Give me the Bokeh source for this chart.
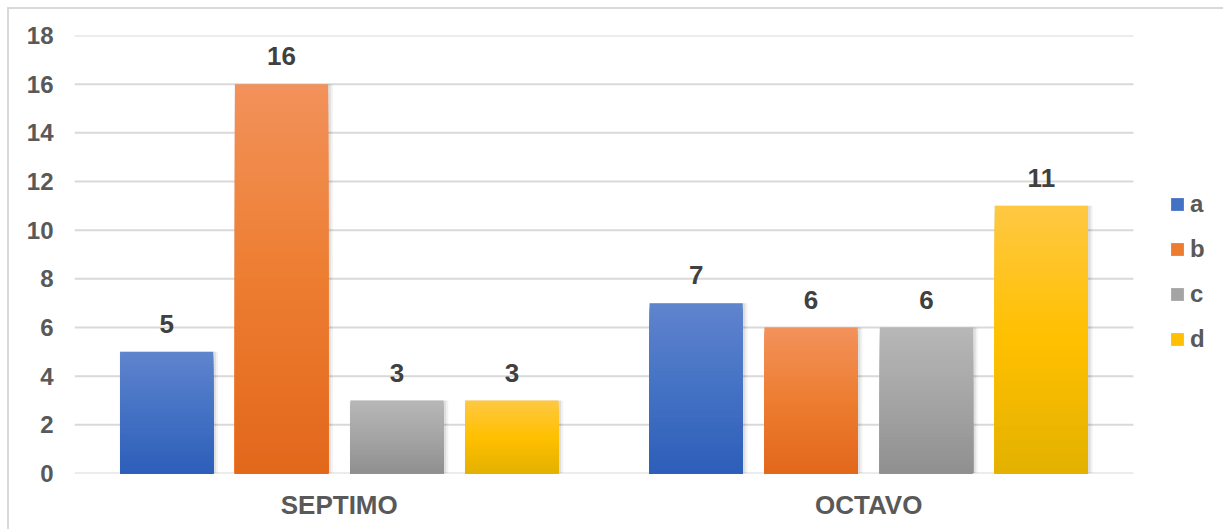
from bokeh.plotting import figure
from bokeh.models import (ColumnDataSource, Range1d, FixedTicker, Legend, LegendItem)
from bokeh.core.properties import value
from bokeh.embed import file_html
from bokeh.resources import INLINE

# ---- data -------------------------------------------------------------
grades = ["SEPTIMO", "OCTAVO"]
series = ["a", "b", "c", "d"]
a_vals = [5, 7]
b_vals = [16, 6]
c_vals = [3, 6]
d_vals = [3, 11]
y_ticks = [0, 2, 4, 6, 8, 10, 12, 14, 16, 18]

series_values = {"a": a_vals, "b": b_vals, "c": c_vals, "d": d_vals}

# ---- styling ----------------------------------------------------------
FONT = "Liberation Sans"
TEXT_GREY = "#595959"
LABEL_GREY = "#404040"
GRID_GREY = "#d9d9d9"

# vertical gradients per series: (top, middle, bottom)
gradients = {
    "a": ("#6084ce", "#4472c4", "#2d5eb9"),
    "b": ("#f2925b", "#ed7d31", "#e2671b"),
    "c": ("#b7b7b7", "#a5a5a5", "#8f8f8f"),
    "d": ("#ffc843", "#ffc000", "#e3b100"),
}
offsets = [-0.326, -0.109, 0.109, 0.326]   # bar position inside a category slot
BAR_W = 0.176
STEPS = 40

# frame geometry: the category slots take CAT_PX, the legend column LEGEND_PX
CAT_PX = 1059
LEGEND_PX = 92
n_cat = len(grades)
cat_centers = [i + 0.5 for i in range(n_cat)]


def hex_to_rgb(h):
    h = h.lstrip("#")
    return tuple(int(h[i:i + 2], 16) for i in (0, 2, 4))


def mix(c1, c2, t):
    a, b = hex_to_rgb(c1), hex_to_rgb(c2)
    return "#%02x%02x%02x" % tuple(round(x + (y - x) * t) for x, y in zip(a, b))


def grad_color(stops, t):
    """t = 0 at the top of a bar, 1 at the bottom."""
    top, mid, bot = stops
    if t < 0.5:
        return mix(top, mid, t / 0.5)
    return mix(mid, bot, (t - 0.5) / 0.5)


p = figure(
    x_range=Range1d(0, n_cat * (CAT_PX + LEGEND_PX) / CAT_PX),
    y_range=Range1d(0, 18),
    width=1216, height=522,
    output_backend="svg", toolbar_location=None,
    min_border_left=65, min_border_right=0,
    min_border_top=26, min_border_bottom=58,
)
p.margin = (7, 0, 0, 7)
p.styles = {"border-top": "2px solid #d9d9d9", "border-left": "2px solid #d9d9d9"}
p.outline_line_color = None
p.background_fill_color = "white"
p.border_fill_color = "white"

# axes
p.yaxis.ticker = FixedTicker(ticks=y_ticks)
p.xaxis.ticker = FixedTicker(ticks=cat_centers)
p.xaxis.major_label_overrides = {c: g for c, g in zip(cat_centers, grades)}
for ax in (p.xaxis[0], p.yaxis[0]):
    ax.axis_line_color = None
    ax.major_tick_line_color = None
    ax.minor_tick_line_color = None
    ax.major_tick_out = 0
    ax.major_tick_in = 0
    ax.major_label_text_font = FONT
    ax.major_label_text_font_style = "bold"
    ax.major_label_text_color = TEXT_GREY
p.yaxis.major_label_text_font_size = "24px"
p.yaxis.major_label_standoff = 21
p.xaxis.major_label_text_font_size = "26px"
p.xaxis.major_label_standoff = 16

# horizontal gridlines only across the category slots
p.xgrid.grid_line_color = None
p.ygrid.grid_line_color = None
grid_src = ColumnDataSource(dict(x0=[0] * len(y_ticks), x1=[n_cat] * len(y_ticks),
                                 y=y_ticks))
p.segment(x0="x0", y0="y", x1="x1", y1="y", source=grid_src,
          line_color=GRID_GREY, line_width=2)

legend_items = []
for s, off in zip(series, offsets):
    vals = series_values[s]
    stops = gradients[s]
    xs = [c + off for c in cat_centers]

    # soft drop shadow behind each bar
    shadow = ColumnDataSource(dict(x=[x + 0.004 for x in xs], x2=[x + 0.003 for x in xs],
                                   top=vals))
    p.vbar(x="x", top="top", width=BAR_W + 0.010, source=shadow,
           fill_color="black", fill_alpha=0.05, line_color=None)
    p.vbar(x="x2", top="top", width=BAR_W + 0.004, source=shadow,
           fill_color="black", fill_alpha=0.08, line_color=None)

    # gradient fill: nested bars from 0 up to a shrinking share of the value
    swatch = None
    for i in range(STEPS):
        frac = 1 - i / STEPS
        src = ColumnDataSource(dict(x=xs, top=[v * frac for v in vals]))
        r = p.vbar(x="x", top="top", width=BAR_W, source=src,
                   fill_color=grad_color(stops, (i + 0.5) / STEPS), line_color=None)
        if i == STEPS // 2:
            swatch = r

    # value labels
    lab = ColumnDataSource(dict(x=xs, y=vals, txt=[str(v) for v in vals]))
    p.text(x="x", y="y", text="txt", source=lab, y_offset=-28,
           text_align="center", text_baseline="alphabetic",
           text_font=value(FONT), text_font_style="bold",
           text_font_size="26px", text_color=LABEL_GREY)

    legend_items.append(LegendItem(label=s, renderers=[swatch]))

legend = Legend(
    items=legend_items, location=(CAT_PX + 36, 120),
    glyph_width=16, glyph_height=16, label_standoff=5,
    label_height=26, spacing=17, padding=0, margin=0,
    label_text_font=FONT, label_text_font_style="bold",
    label_text_font_size="24px", label_text_color=TEXT_GREY,
    border_line_color=None, background_fill_alpha=0,
)
p.add_layout(legend)

open("out.html", "w").write(file_html(p, INLINE))
